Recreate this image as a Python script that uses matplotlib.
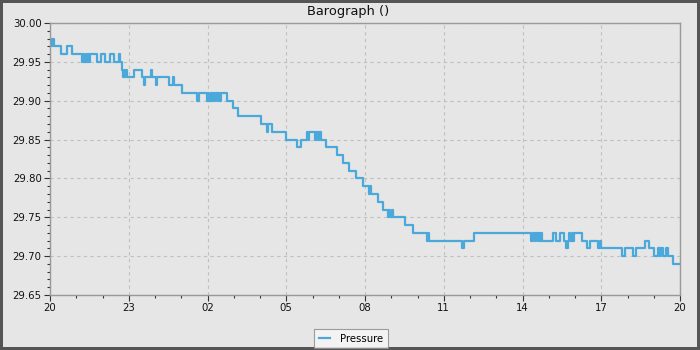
import datetime as dt
import matplotlib
matplotlib.use("Agg")
import matplotlib.pyplot as plt
import matplotlib.dates as mdates

# minutes after 20:00, pressure value from that minute on (step data)
minutes = [0, 2, 4, 6, 7, 9, 25, 39, 50,
           73, 76, 78, 82, 84, 87, 89, 91,
           107, 117, 126, 137, 146, 158, 161, 165, 167, 169, 171, 173, 176,
           192, 210, 215, 218, 231, 234, 242, 244, 272, 281, 284, 302, 336, 340,
           359, 362, 364, 367, 370, 373, 377, 380, 383, 386, 389, 391,
           405, 418, 430, 482, 496, 498, 507, 539, 565, 574,
           587, 589, 592, 606, 608, 612, 615, 619, 631, 656, 670, 683, 699,
           715, 730, 732, 734, 750, 761, 773, 775, 778, 782, 784,
           811, 830, 862, 864, 866, 942, 946, 969,
           1099, 1104, 1109, 1112, 1115, 1118, 1120, 1122, 1125,
           1150, 1157, 1166, 1175, 1179, 1184, 1186, 1189, 1192, 1195, 1198,
           1216, 1227, 1234, 1253, 1256, 1259, 1307, 1314, 1333, 1339,
           1360, 1369, 1381, 1390, 1394, 1397, 1401, 1408, 1413, 1424, 1440]
pressure = [29.98, 29.97, 29.98, 29.97, 29.98, 29.97, 29.96, 29.97, 29.96,
            29.95, 29.96, 29.95, 29.96, 29.95, 29.96, 29.95, 29.96,
            29.95, 29.96, 29.95, 29.96, 29.95, 29.96, 29.95, 29.94, 29.93, 29.94, 29.93, 29.94, 29.93,
            29.94, 29.93, 29.92, 29.93, 29.94, 29.93, 29.92, 29.93, 29.92, 29.93, 29.92, 29.91, 29.90, 29.91,
            29.90, 29.91, 29.90, 29.91, 29.90, 29.91, 29.90, 29.91, 29.90, 29.91, 29.90, 29.91,
            29.90, 29.89, 29.88, 29.87, 29.86, 29.87, 29.86, 29.85, 29.84, 29.85,
            29.86, 29.85, 29.86, 29.85, 29.86, 29.85, 29.86, 29.85, 29.84, 29.83, 29.82, 29.81, 29.80,
            29.79, 29.78, 29.79, 29.78, 29.77, 29.76, 29.75, 29.76, 29.75, 29.76, 29.75,
            29.74, 29.73, 29.72, 29.73, 29.72, 29.71, 29.72, 29.73,
            29.72, 29.73, 29.72, 29.73, 29.72, 29.73, 29.72, 29.73, 29.72,
            29.73, 29.72, 29.73, 29.72, 29.71, 29.72, 29.73, 29.72, 29.73, 29.72, 29.73,
            29.72, 29.71, 29.72, 29.71, 29.72, 29.71, 29.70, 29.71, 29.70, 29.71,
            29.72, 29.71, 29.70, 29.71, 29.70, 29.71, 29.70, 29.71, 29.70, 29.69, 29.69]

start = dt.datetime(2024, 1, 1, 20, 0)
times = [start + dt.timedelta(minutes=m) for m in minutes]

bg = "#e6e6e6"
fig = plt.figure(figsize=(7, 3.5), dpi=100, facecolor=bg,
                 edgecolor="#555555", linewidth=3)
ax = fig.add_axes([50 / 700, 1 - 295 / 350, 630 / 700, 272 / 350])
ax.set_facecolor(bg)

ax.plot(times, pressure, drawstyle="steps-post", color="#4aa8da",
        linewidth=1.6, label="Pressure")

ax.set_xlim(start, start + dt.timedelta(hours=24))
ax.set_ylim(29.65, 30.00)
ax.set_yticks([29.65, 29.70, 29.75, 29.80, 29.85, 29.90, 29.95, 30.00])
ax.set_yticks([29.65 + 0.01 * i for i in range(36)], minor=True)
ax.yaxis.set_major_formatter(matplotlib.ticker.FormatStrFormatter("%.2f"))
ax.xaxis.set_major_locator(mdates.HourLocator(byhour=[2, 5, 8, 11, 14, 17, 20, 23]))
ax.xaxis.set_minor_locator(mdates.HourLocator())
ax.xaxis.set_major_formatter(mdates.DateFormatter("%H"))

ax.tick_params(which="major", length=4, width=0.8, color="#333333",
               labelsize=7.3, labelcolor="#111111", pad=2)
ax.tick_params(which="minor", length=2.5, width=0.8, color="#333333")
ax.grid(True, which="major", color="#c0c0c0", linestyle=(0, (3, 3)), linewidth=0.8)
for s in ax.spines.values():
    s.set_color("#999999")
    s.set_linewidth(1)

fig.text(348 / 700, 1 - 11 / 350, "Barograph ()", ha="center", va="center",
         fontsize=9.4, color="#111111")

leg = fig.legend(loc="center", bbox_to_anchor=(351 / 700, 1 - 338.5 / 350),
                 fontsize=7.3, frameon=True, fancybox=False, handlelength=1.1,
                 handletextpad=1.0, borderpad=0.45, borderaxespad=0)
leg.get_frame().set_facecolor("#f7f7f7")
leg.get_frame().set_edgecolor("#888888")
leg.get_frame().set_linewidth(0.8)

fig.savefig("out.png", dpi=100, facecolor=bg)
